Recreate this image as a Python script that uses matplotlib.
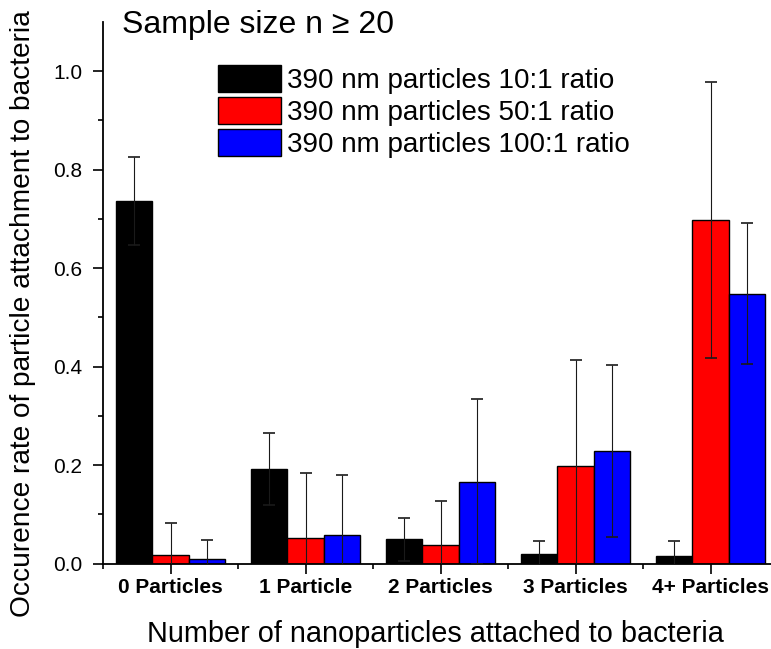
import numpy as np
import matplotlib
matplotlib.use("Agg")
import matplotlib.pyplot as plt

plt.rcParams['font.family'] = ['Liberation Sans', 'DejaVu Sans']

# data
categories = ['0 Particles', '1 Particle', '2 Particles', '3 Particles', '4+ Particles']
series_names = ['390 nm particles 10:1 ratio',
                '390 nm particles 50:1 ratio',
                '390 nm particles 100:1 ratio']
vals_10 = [0.736, 0.192, 0.049, 0.020, 0.016]
err_10 = [0.089, 0.074, 0.043, 0.025, 0.029]
vals_50 = [0.017, 0.052, 0.037, 0.199, 0.698]
err_50 = [0.065, 0.131, 0.090, 0.215, 0.281]
vals_100 = [0.010, 0.057, 0.166, 0.229, 0.548]
err_100 = [0.037, 0.123, 0.168, 0.175, 0.143]
colors = ['#000000', '#ff0000', '#0000ff']

W, H = 771, 649
fig = plt.figure(figsize=(W / 100, H / 100), dpi=100)
# axes run a little past the right edge, like the cropped original
ax = fig.add_axes([103 / W, (H - 563.5) / H, 675 / W, 541.5 / H])

x = np.arange(len(categories))
width = 0.267
all_vals = [vals_10, vals_50, vals_100]
all_errs = [err_10, err_50, err_100]
for i, (v, e) in enumerate(zip(all_vals, all_errs)):
    pos = x + (i - 1) * width
    ax.bar(pos, v, width, color=colors[i], edgecolor='black', linewidth=1,
           label=series_names[i], zorder=2)
    ax.errorbar(pos, v, yerr=e, fmt='none', ecolor='#1a1a1a', elinewidth=0.8,
                capsize=4, capthick=1.2, zorder=3)

ax.set_xlim(-0.5, 4.5)
ax.set_ylim(0, 1.1)
ax.set_xticks(x)
ax.set_xticklabels(categories, fontsize=15, fontweight='bold')
ax.set_xticks(np.arange(-0.5, 5, 1), minor=True)
ax.set_yticks(np.arange(0, 1.01, 0.2))
ax.set_yticklabels(['%.1f' % t for t in np.arange(0, 1.01, 0.2)], fontsize=15)
ax.set_yticks(np.arange(0.1, 1.1, 0.2), minor=True)

ax.tick_params(axis='both', which='major', direction='out', length=7.2, width=1.2)
ax.tick_params(axis='both', which='minor', direction='out', length=3.6, width=1.2)
ax.tick_params(axis='x', which='major', pad=3.3)
ax.tick_params(axis='y', which='major', pad=7.5)

for s in ['top', 'right']:
    ax.spines[s].set_visible(False)
for s in ['left', 'bottom']:
    ax.spines[s].set_linewidth(1.3)

ax.set_ylabel('Occurence rate of particle attachment to bacteria', fontsize=20.2, va='center')
ax.yaxis.set_label_coords(-0.1185, 0.462)
ax.set_xlabel('Number of nanoparticles attached to bacteria', fontsize=20.8, va='baseline')
ax.xaxis.set_label_coords(0.492, -0.145)

fig.text(122 / W, 1 - 33 / H, 'Sample size n \u2265 20', fontsize=23, va='baseline')

ax.legend(loc='upper left', bbox_to_anchor=(218 / W, 1 - 65 / H),
          bbox_transform=fig.transFigure, frameon=False, fontsize=20,
          handlelength=2.25, handleheight=1.14, labelspacing=0.1,
          handletextpad=0.25, borderpad=0, borderaxespad=0)

fig.savefig('out.png', dpi=100)
